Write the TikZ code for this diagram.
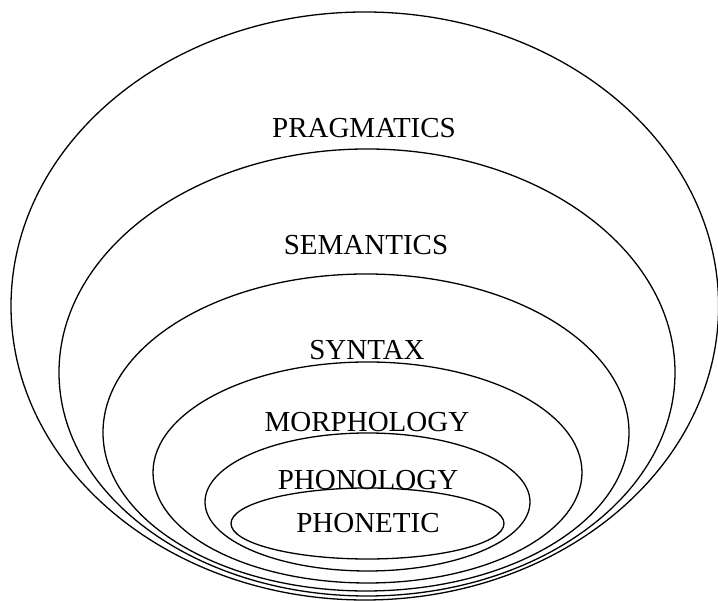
\documentclass[tikz,border=0pt]{standalone}
\usepackage{fontspec}
\setmainfont{Liberation Serif}
\begin{document}
\begin{tikzpicture}[x=1pt,y=1pt,
  ring/.style={draw=black,line width=1.3pt},
  lbl/.style={inner sep=0pt,font=\fontsize{29}{32}\selectfont}]
\useasboundingbox (0,0) rectangle (718,601);
\draw[ring] (364.8,295) ellipse [x radius=353.8, y radius=294];
\draw[ring] (367,228.5) ellipse [x radius=308, y radius=223.5];
\draw[ring] (366,168.5) ellipse [x radius=263, y radius=158.5];
\draw[ring] (367.5,128.5) ellipse [x radius=214.5, y radius=110.5];
\draw[ring] (367.5,99) ellipse [x radius=162.5, y radius=69];
\draw[ring] (367.5,77.5) ellipse [x radius=136.5, y radius=35.5];
\node[lbl] (prag) at (364,473) {PRAGMATICS};
\node[lbl] (sem) at (366,356) {SEMANTICS};
\node[lbl] (syn) at (367,251) {SYNTAX};
\node[lbl] (mor) at (367,179) {MORPHOLOGY};
\node[lbl] (phl) at (368,121) {PHONOLOGY};
\node[lbl] (pht) at (368,78) {PHONETIC};
\end{tikzpicture}
\end{document}
